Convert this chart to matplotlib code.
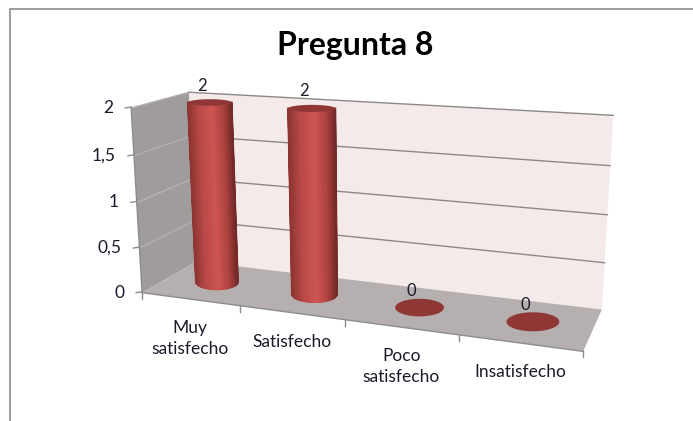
"""Pregunta 8: cilindros 3D al estilo Excel"""
import matplotlib.pyplot as plt
import numpy as np
from matplotlib.colors import LinearSegmentedColormap

TITLE = "Pregunta 8"
CATEGORIES = ["Muy\nsatisfecho", "Satisfecho", "Poco\nsatisfecho", "Insatisfecho"]
VALUES = [2, 2, 0, 0]
VALUE_TICKS = [0, 0.5, 1, 1.5, 2]
VALUE_TICK_LABELS = ["0", "0,5", "1", "1,5", "2"]

# calibracion de la camara: (categoria, valor, profundidad) -> pixel
CALIB_WORLD = [
    (0, 0, 0), (0, 2, 0), (0, 2, 1), (0, 0, 1), (4, 2, 1), (4, 0, 1), (4, 0, 0),
    (1, 0, 0), (2, 0, 0), (3, 0, 0),
    (0.5, 0, 0.5), (1.5, 0, 0.5), (2.5, 0, 0.5), (3.5, 0, 0.5),
    (0.5, 2, 0.5), (1.5, 2, 0.5),
    (4, 1.5, 1), (4, 1, 1), (4, 0.5, 1),
]
CALIB_PIXEL = [
    (143, 293), (131, 107), (189, 93), (196, 263), (613, 115), (602, 308), (583, 352),
    (239, 306), (346, 320), (458, 336),
    (217, 281), (315, 292), (420, 308), (533, 322),
    (210, 102), (312, 109),
    (610, 166), (607.6, 215), (605, 263),
]

CYL_CMAP = LinearSegmentedColormap.from_list(
    "cyl",
    [(0.0, "#8e3533"), (0.25, "#b84a47"), (0.55, "#cf5552"), (0.8, "#ad4341"), (1.0, "#742a28")],
)


def fit_camera():
    """mapeo proyectivo 3x4 por minimos cuadrados"""
    rows = []
    for (x, y, z), (px, py) in zip(CALIB_WORLD, CALIB_PIXEL):
        rows.append([x, y, z, 1, 0, 0, 0, 0, -px * x, -px * y, -px * z, -px])
        rows.append([0, 0, 0, 0, x, y, z, 1, -py * x, -py * y, -py * z, -py])
    _, _, vt = np.linalg.svd(np.array(rows, dtype=float))
    return vt[-1].reshape(3, 4)


CAMERA = fit_camera()


def project(x, y, z):
    h = CAMERA @ np.array([x, y, z, 1.0])
    return h[:2] / h[2]


def poly(ax, pts, **kwargs):
    ax.fill(*zip(*pts), **kwargs)


def draw_frame(ax):
    # paredes y suelo
    poly(ax, [project(0, 0, 0), project(0, 2, 0), project(0, 2, 1), project(0, 0, 1)],
         fc="#a09c9c", ec="none", zorder=1)
    poly(ax, [project(0, 0, 1), project(0, 2, 1), project(4, 2, 1), project(4, 0, 1)],
         fc="#f5eaea", ec="none", zorder=1)
    poly(ax, [project(0, 0, 0), project(0, 0, 1), project(4, 0, 1), project(4, 0, 0)],
         fc="#b5afaf", ec="none", zorder=1)

    # lineas de division
    for v, label in zip(VALUE_TICKS, VALUE_TICK_LABELS):
        p0, p1, p2 = project(0, v, 0), project(0, v, 1), project(4, v, 1)
        if v > 0:
            ax.plot([p0[0], p1[0]], [p0[1], p1[1]], color="#b4b0b0", lw=1.0, zorder=2)
            ax.plot([p1[0], p2[0]], [p1[1], p2[1]], color="#8c8888", lw=1.0, zorder=2)
        ax.plot([p0[0] - 6, p0[0]], [p0[1], p0[1] - 1], color="#8c8c8c", lw=1.0, zorder=2)
        ax.text(p0[0] - 18, p0[1], label, ha="right", va="center", fontsize=12.5, color="#1a1a2a")

    # eje de categorias
    for i in range(len(CATEGORIES) + 1):
        p = project(i, 0, 0)
        ax.plot([p[0], p[0]], [p[1], p[1] + 6], color="#8c8c8c", lw=1.0, zorder=2)
    p0, p1 = project(0, 0, 0), project(4, 0, 0)
    ax.plot([p0[0], p1[0]], [p0[1], p1[1]], color="#8c8c8c", lw=1.0, zorder=2)
    p0, p1 = project(0, 0, 0), project(0, 2, 0)
    ax.plot([p0[0], p1[0]], [p0[1], p1[1]], color="#8c8c8c", lw=1.0, zorder=2)


def radii(i, value):
    left = project(i + 0.5 - 0.2, value, 0.5)
    right = project(i + 0.5 + 0.2, value, 0.5)
    rx = (right[0] - left[0]) / 2 * 1.12
    # la tapa se ve mas plana cuanto mas arriba
    return rx, rx * (0.36 - 0.105 * value)


def draw_cylinder(ax, i, value):
    bottom = project(i + 0.5, 0, 0.5)
    top = project(i + 0.5, value, 0.5)
    rx, ry = radii(i, value)
    if value > 0:
        # cuerpo con degradado gouraud
        rx0, ry0 = radii(i, 0)
        angles = np.linspace(np.pi, 0, 41)
        xs = np.vstack([top[0] + rx * np.cos(angles), bottom[0] + rx0 * np.cos(angles)])
        ys = np.vstack([top[1] + ry * np.sin(angles), bottom[1] + ry0 * np.sin(angles)])
        shade = np.vstack([np.cos(angles), np.cos(angles)]) / 2 + 0.5
        ax.pcolormesh(xs, ys, shade, shading="gouraud", cmap=CYL_CMAP, vmin=0, vmax=1, zorder=3)
        # gouraud no suaviza los bordes: se repasan con linea
        ax.plot(xs[:, 0], ys[:, 0], color=CYL_CMAP(0.0), lw=1.2, zorder=3.5)
        ax.plot(xs[:, -1], ys[:, -1], color=CYL_CMAP(1.0), lw=1.2, zorder=3.5)
    a = np.linspace(0, 2 * np.pi, 80)
    ax.fill(top[0] + rx * np.cos(a), top[1] + ry * np.sin(a), fc="#8e3735", ec="none", zorder=4)
    ax.text(top[0] - 8, top[1] - 17, str(value), ha="center", va="center",
            fontsize=12, color="#1a1a2a", zorder=5)


def main():
    plt.rcParams["font.family"] = ["Lato", "DejaVu Sans"]
    fig = plt.figure(figsize=(6.93, 4.21), dpi=100)
    ax = fig.add_axes([0, 0, 1, 1])
    ax.set_xlim(0, 693)
    ax.set_ylim(421, 0)
    ax.axis("off")

    # marco del grafico
    ax.plot([10, 10, 693], [421, 9, 9], color="#8c8c8c", lw=1.2)

    ax.text(355, 45, TITLE, ha="center", va="center", fontsize=23, fontweight="bold", color="black")

    draw_frame(ax)
    for i, value in enumerate(VALUES):
        draw_cylinder(ax, i, value)

    # etiquetas de categoria: la primera linea sigue el borde delantero
    for i, label in enumerate(CATEGORIES):
        p = project(i + 0.5, 0, 0)
        ax.text(p[0], p[1] + 21, label, ha="center", va="top", fontsize=12.5,
                color="#1a1a2a", linespacing=1.39)

    fig.savefig("out.png", dpi=100)


if __name__ == "__main__":
    main()
